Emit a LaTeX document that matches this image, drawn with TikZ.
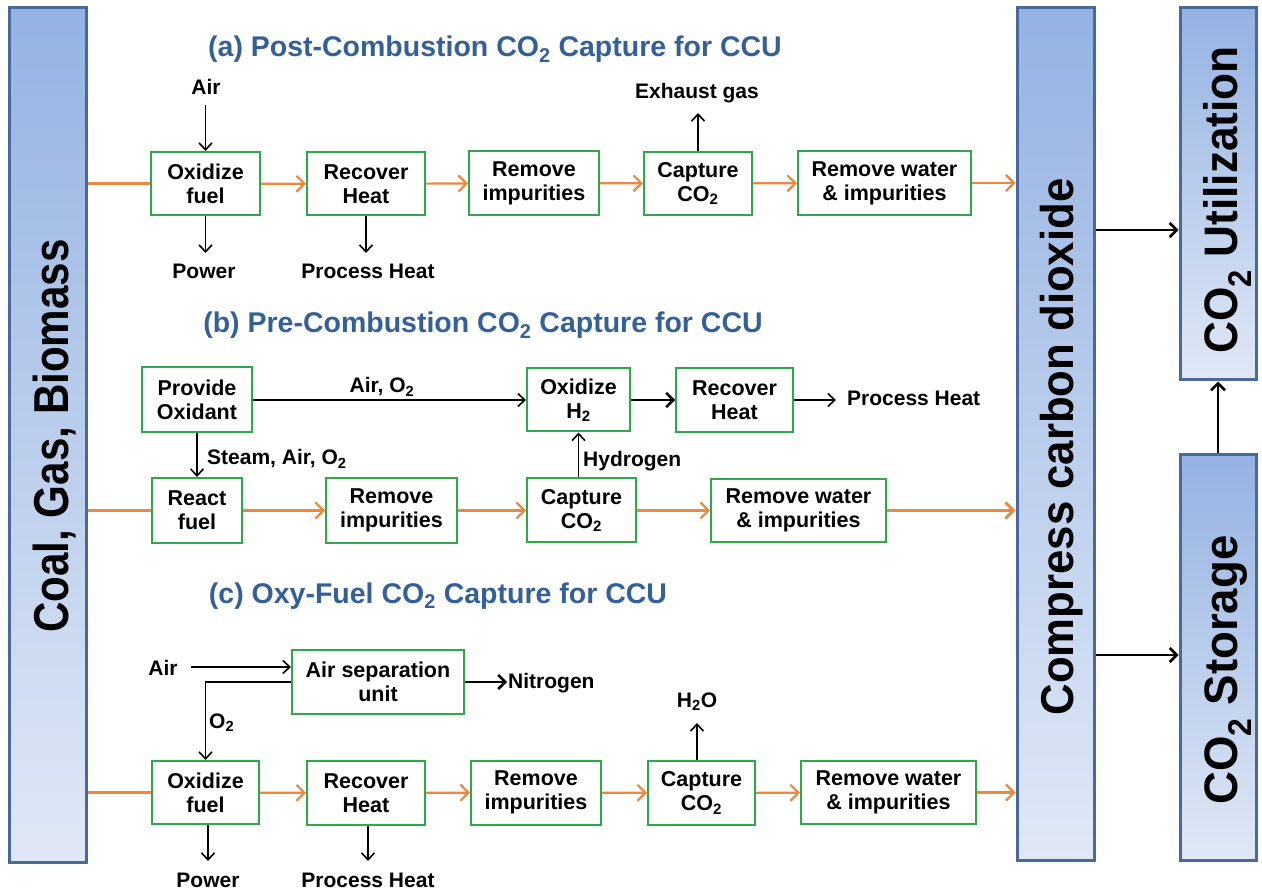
\documentclass[tikz,border=0pt]{standalone}
\usepackage{fontspec}
\setmainfont{Liberation Sans}
\usepackage{graphicx}
\usetikzlibrary{arrows.meta}
\definecolor{boxgreen}{RGB}{46,168,72}
\definecolor{flow}{RGB}{237,137,62}
\definecolor{titleblue}{RGB}{52,96,152}
\definecolor{barline}{RGB}{72,104,158}
\definecolor{bartop}{RGB}{148,178,226}
\definecolor{barbot}{RGB}{224,232,246}
\newcommand\subtwo{\textsubscript{2}}
\begin{document}
\begin{tikzpicture}[x=1pt,y=-1pt,
 proc/.style={draw=boxgreen,line width=2pt,fill=white,align=center,inner sep=0pt,font=\bfseries\fontsize{21.5}{24}\selectfont},
 lbl/.style={inner sep=0pt,anchor=base,font=\bfseries\fontsize{21}{23}\selectfont},
 lblw/.style={inner sep=0pt,anchor=base west,font=\bfseries\fontsize{21}{23}\selectfont},
 ttl/.style={inner sep=0pt,anchor=base,text=titleblue,font=\bfseries\fontsize{28.5}{30}\selectfont},
 bar/.style={draw=barline,line width=3pt,top color=bartop,bottom color=barbot,inner sep=0pt},
 bartxt/.style={rotate=90,anchor=base,inner sep=0pt,font=\bfseries\fontsize{46}{50}\selectfont},
 flowarr/.style={draw=flow,line width=2.2pt,-{Straight Barb[length=8pt,width=16pt]}},
 flowline/.style={draw=flow,line width=2.2pt},
 karr/.style={draw=black,line width=1.6pt,-{Straight Barb[length=7pt,width=13pt]}},
 karrthick/.style={draw=black,line width=2.6pt,-{Straight Barb[length=7pt,width=14pt]}},
]
\useasboundingbox (0,0) rectangle (1262,890);

% ---- bars
\node[bar,minimum width=77pt,minimum height=854pt] (L) at (47.5,435) {};
\node[bar,minimum width=77pt,minimum height=852pt] (C) at (1055.5,434) {};
\node[bar,minimum width=76pt,minimum height=372pt] (U) at (1218,194) {};
\node[bar,minimum width=76pt,minimum height=405pt] (S) at (1218,657.5) {};
\node[bartxt,font=\bfseries\fontsize{49}{50}\selectfont] (Lt) at (68,436) {\scalebox{0.86}[1]{Coal, Gas, Biomass}};
\node[bartxt] (Ct) at (1073,447) {\scalebox{0.95}[1]{Compress carbon dioxide}};
\node[bartxt,font=\bfseries\fontsize{47}{50}\selectfont] (Ut) at (1237,200) {\scalebox{0.94}[1]{CO\subtwo{} Utilization}};
\node[bartxt,font=\bfseries\fontsize{47}{50}\selectfont] (St) at (1237,670) {\scalebox{0.97}[1]{CO\subtwo{} Storage}};

\coordinate (cu) at (1137,230);
\coordinate (cs2) at (1137,655);
\draw[karrthick] (C.east |- cu) -- (U.west |- cu);
\draw[karrthick] (C.east |- cs2) -- (S.west |- cs2);
\draw[karrthick] (S.north) -- (U.south);

% ---- titles
\node[ttl] (ta) at (495,57) {(a) Post-Combustion CO\subtwo{} Capture for CCU};
\node[ttl] (tb) at (483,333) {(b) Pre-Combustion CO\subtwo{} Capture for CCU};
\node[ttl] (tc) at (438,603) {(c) Oxy-Fuel CO\subtwo{} Capture for CCU};

% ---- row a
\node[proc,minimum width=109pt,minimum height=63pt] (a1) at (205.5,183.5) {Oxidize\\fuel};
\node[proc,minimum width=118pt,minimum height=63pt] (a2) at (366,184) {Recover\\Heat};
\node[proc,minimum width=130pt,minimum height=64pt] (a3) at (534,183) {Remove\\impurities};
\node[proc,minimum width=108pt,minimum height=63pt] (a4) at (698,183.5) {Capture\\CO\subtwo};
\node[proc,minimum width=173pt,minimum height=64pt] (a5) at (884.5,183) {Remove water\\\& impurities};
\draw[flowline] (L.east |- a1) -- (a1.west);
\draw[flowarr] (a1) -- (a2);
\draw[flowarr] (a2) -- (a3);
\draw[flowarr] (a3) -- (a4);
\draw[flowarr] (a4) -- (a5);
\draw[flowarr] (a5.east) -- (C.west |- a5.east);

\node[lbl] (airA) at (206,95) {Air};
\coordinate (airAs) at (205.5,105);
\draw[karr] (airAs) -- (a1.north);
\node[lbl] (powA) at (204,279) {Power};
\coordinate (powAe) at (205.5,253);
\draw[karr] (a1.south) -- (powAe);
\node[lbl] (phA) at (368,279) {Process Heat};
\coordinate (phAe) at (366,253);
\draw[karr] (a2.south) -- (phAe);
\node[lbl] (exA) at (697,99) {Exhaust gas};
\coordinate (exAe) at (698,113);
\draw[karr] (a4.north) -- (exAe);

% ---- row b
\node[proc,minimum width=110pt,minimum height=65pt] (b0) at (197,400) {Provide\\Oxidant};
\node[proc,minimum width=90pt,minimum height=65pt] (b1) at (197,510.5) {React\\fuel};
\node[proc,minimum width=131pt,minimum height=65pt] (b2) at (391.5,510.5) {Remove\\impurities};
\node[proc,minimum width=109pt,minimum height=64pt] (b3) at (581.5,510.5) {Capture\\CO\subtwo};
\node[proc,minimum width=175pt,minimum height=63pt] (b4) at (798.5,510.5) {Remove water\\\& impurities};
\node[proc,minimum width=103pt,minimum height=63pt] (bh) at (578.5,400) {Oxidize\\H\subtwo};
\node[proc,minimum width=117pt,minimum height=64pt] (br) at (734.5,400) {Recover\\Heat};
\draw[flowline] (L.east |- b1) -- (b1.west);
\draw[flowarr] (b1) -- (b2);
\draw[flowarr] (b2) -- (b3);
\draw[flowarr] (b3) -- (b4);
\draw[flowarr,line width=3pt] (b4.east) -- (C.west |- b4.east);

\draw[karr] (b0.east) -- (bh.west);
\node[lbl] (airO) at (382,393) {Air, O\subtwo};
\draw[karr] (b0.south) -- (b1.north);
\node[lblw] (steam) at (207,465) {Steam, Air, O\subtwo};
\draw[karr] (bh.south |- b3.north) -- (bh.south);
\node[lblw] (hyd) at (583,467) {Hydrogen};
\draw[karrthick] (bh.east) -- (br.west);
\coordinate (phBe) at (836,400);
\draw[karr] (br.east) -- (phBe);
\node[lblw] (phB) at (847,406) {Process Heat};

% ---- row c
\node[proc,minimum width=172pt,minimum height=64pt] (cs) at (378,682) {Air separation\\unit};
\node[proc,minimum width=107pt,minimum height=63pt] (c1) at (205.5,792.5) {Oxidize\\fuel};
\node[proc,minimum width=118pt,minimum height=64pt] (c2) at (366,793) {Recover\\Heat};
\node[proc,minimum width=130pt,minimum height=64pt] (c3) at (536,792.5) {Remove\\impurities};
\node[proc,minimum width=107pt,minimum height=64pt] (c4) at (701.5,793) {Capture\\CO\subtwo};
\node[proc,minimum width=175pt,minimum height=63pt] (c5) at (888.5,792.5) {Remove water\\\& impurities};
\draw[flowline] (L.east |- c1) -- (c1.west);
\draw[flowarr] (c1) -- (c2);
\draw[flowarr] (c2) -- (c3);
\draw[flowarr] (c3) -- (c4);
\draw[flowarr] (c4) -- (c5);
\draw[flowarr] (c5.east) -- (C.west |- c5.east);

\node[lbl] (airC) at (163,675) {Air};
\coordinate (airCs) at (191,667);
\draw[karr] (airCs) -- (cs.west |- airCs);
\draw[karr] (cs.west) -| (c1.north);
\node[lblw] (o2C) at (209,728) {O\subtwo};
\coordinate (nitE) at (507,682);
\draw[karrthick] (cs.east) -- (nitE);
\node[lblw] (nit) at (508,688) {Nitrogen};
\node[lbl] (h2o) at (697,707) {H\subtwo O};
\coordinate (h2oE) at (697,723);
\draw[karr] (c4.north -| h2oE) -- (h2oE);
\coordinate (powCe) at (208,861);
\draw[karr] (c1.south -| powCe) -- (powCe);
\node[lbl] (powC) at (208,887.5) {Power};
\coordinate (phCe) at (368,861);
\draw[karr] (c2.south -| phCe) -- (phCe);
\node[lbl] (phC) at (368,887.5) {Process Heat};
\end{tikzpicture}
\end{document}
